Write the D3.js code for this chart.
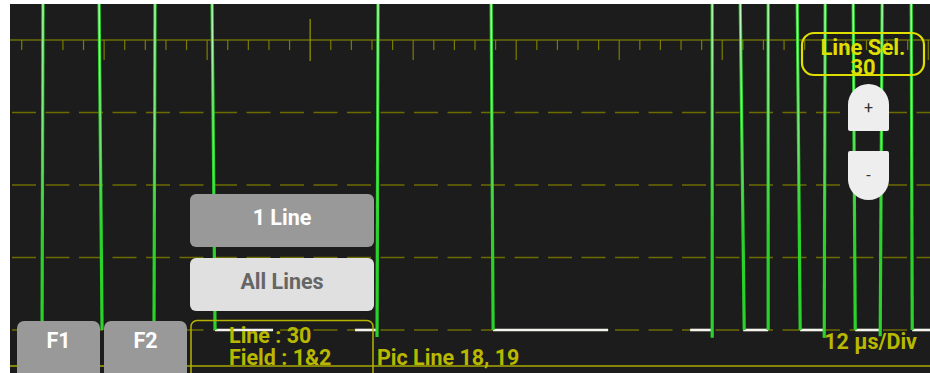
<!DOCTYPE html>
<html>
<head>
<meta charset="utf-8">
<script src="https://cdn.jsdelivr.net/npm/d3@7"></script>
<style>
  html, body { margin: 0; padding: 0; background: #fff; }
  svg { display: block; font-family: Roboto, "Liberation Sans", sans-serif; }
</style>
</head>
<body>
<svg id="wfm" width="930" height="373"></svg>
<script>
// trace edges: time (µs) at top / at bottom, bottom level (mV)
const edgeTopUs = [4.88, 11.41, 17.93, 24.57, 43.91, 57.08, 82.83, 86.09, 89.35, 92.73, 95.99, 99.25, 102.63, 106.01];
const edgeBotUs = [4.77, 11.76, 17.81, 24.92, 43.79, 57.31, 82.83, 86.56, 89.35, 93.08, 95.88, 99.49, 102.40, 106.13];
const edgeBotMv = [0, 0, 0, 0, -17, 0, -19, 0, 0, 0, -19, 0, -15, 0];
// white baseline (blanking) segments, µs
const baseStartUs = [24.92, 41.23, 57.31, 80.26, 86.44, 93.08, 99.49, 106.13];
const baseEndUs   = [31.68, 43.79, 70.71, 82.83, 89.35, 95.76, 102.40, 108.2];
// graticule
const dashLevelsMv = [525, 350, 175, 0];
const topLevelMv = 700;
const minorStep = 2.4;       // µs
const bigTickUs = 36;

// UI labels
const fieldButtons = ["F1", "F2"];
const modeButtons = ["1 Line", "All Lines"];
const infoLines = ["Line : 30", "Field : 1&2"];
const picLineLabel = "Pic Line 18, 19";
const scaleLabel = "12 µs/Div";
const lineSelLabels = ["Line Sel.", "30"];

const W = 930, H = 373;
const plot = { x: 10, y: 4, w: 920, h: 369 };
const FS = 21.5;

const svg = d3.select("#wfm");

const x = d3.scaleLinear().domain([0, 108.2]).range([1.1, 930]);
const y = d3.scaleLinear().domain([0, topLevelMv]).range([330, 40]);

svg.append("rect").attr("width", W).attr("height", H).attr("fill", "#fff");
svg.append("rect").attr("x", plot.x).attr("y", plot.y).attr("width", plot.w).attr("height", plot.h).attr("fill", "#1c1c1c");

const defs = svg.append("defs");
defs.append("clipPath").attr("id", "plotClip")
  .append("rect").attr("x", plot.x).attr("y", plot.y).attr("width", plot.w).attr("height", plot.h);

const core = defs.append("linearGradient").attr("id", "coreGrad")
  .attr("gradientUnits", "userSpaceOnUse")
  .attr("x1", 0).attr("x2", 0).attr("y1", 0).attr("y2", 240);
core.append("stop").attr("offset", "0%").attr("stop-color", "#e6ffe6").attr("stop-opacity", 0.85);
core.append("stop").attr("offset", "55%").attr("stop-color", "#d0ffd0").attr("stop-opacity", 0.45);
core.append("stop").attr("offset", "100%").attr("stop-color", "#d0ffd0").attr("stop-opacity", 0);

const g = svg.append("g").attr("clip-path", "url(#plotClip)");

// dashed levels
g.selectAll("line.dash")
  .data(dashLevelsMv)
  .join("line")
  .attr("class", "dash")
  .attr("x1", plot.x).attr("x2", W)
  .attr("y1", d => y(d)).attr("y2", d => y(d))
  .attr("stroke", "#6b6b00").attr("stroke-width", 1.3)
  .attr("stroke-dasharray", "24,9.5").attr("stroke-dashoffset", -2);

// top line with time ticks
g.append("line")
  .attr("x1", plot.x).attr("x2", W)
  .attr("y1", y(topLevelMv)).attr("y2", y(topLevelMv))
  .attr("stroke", "#6e6e08").attr("stroke-width", 1.3);

const tickTimes = d3.range(minorStep, 108.3, minorStep);
g.selectAll("line.tick")
  .data(tickTimes)
  .join("line")
  .attr("class", "tick")
  .attr("x1", d => x(d)).attr("x2", d => x(d))
  .attr("y1", d => Math.abs(d - bigTickUs) < 0.01 ? 19 : y(topLevelMv))
  .attr("y2", d => {
    if (Math.abs(d - bigTickUs) < 0.01) return 61;
    const k = Math.round(d / minorStep);
    return k % 5 === 0 ? 60 : 50;
  })
  .attr("stroke", d => Math.abs(d - bigTickUs) < 0.01 ? "#9a9a00" : "#7c7c00")
  .attr("stroke-width", 1.2);

// bottom solid line
svg.append("line")
  .attr("x1", plot.x).attr("x2", W).attr("y1", 366).attr("y2", 366)
  .attr("stroke", "#a8a800").attr("stroke-width", 1.5);

// white blanking segments
g.selectAll("line.base")
  .data(baseStartUs.map((s, i) => [s, baseEndUs[i]]))
  .join("line")
  .attr("class", "base")
  .attr("x1", d => x(d[0])).attr("x2", d => x(d[1]))
  .attr("y1", y(0)).attr("y2", y(0))
  .attr("stroke", "#f4f4ec").attr("stroke-width", 2.6);

// green edges
const edges = edgeTopUs.map((t, i) => ({ t0: t, t1: edgeBotUs[i], mv: edgeBotMv[i] }));
g.selectAll("line.edge")
  .data(edges)
  .join("line")
  .attr("class", "edge")
  .attr("x1", d => x(d.t0)).attr("y1", y(800))
  .attr("x2", d => x(d.t1)).attr("y2", d => y(d.mv))
  .attr("stroke", "#2ad22a").attr("stroke-width", 3.2);
g.selectAll("line.edgecore")
  .data(edges)
  .join("line")
  .attr("class", "edgecore")
  .attr("x1", d => x(d.t0)).attr("y1", y(800))
  .attr("x2", d => x(d.t1)).attr("y2", d => y(d.mv))
  .attr("stroke", "url(#coreGrad)").attr("stroke-width", 1.3);

// mode buttons
const modeFill = ["#999999", "#e0e0e0"];
const modeText = ["#ffffff", "#666666"];
modeButtons.forEach((label, i) => {
  const by = 194 + i * 64;
  svg.append("rect").attr("x", 190).attr("y", by).attr("width", 184).attr("height", 53)
    .attr("rx", 6).attr("fill", modeFill[i]);
  svg.append("text").attr("x", 282).attr("y", by + 31)
    .attr("text-anchor", "middle").attr("font-size", FS).attr("font-weight", "bold")
    .attr("fill", modeText[i]).text(label);
});

// field buttons
fieldButtons.forEach((label, i) => {
  const bx = 17 + i * 87;
  svg.append("rect").attr("x", bx).attr("y", 321).attr("width", 83).attr("height", 60)
    .attr("rx", 7).attr("fill", "#999999");
  svg.append("text").attr("x", bx + 41.5).attr("y", 348)
    .attr("text-anchor", "middle").attr("font-size", FS).attr("font-weight", "bold")
    .attr("fill", "#ffffff").text(label);
});

// info box
svg.append("rect").attr("x", 191).attr("y", 320.5).attr("width", 182).attr("height", 60)
  .attr("rx", 6).attr("fill", "none").attr("stroke", "#b4b400").attr("stroke-width", 1.5);
infoLines.forEach((txt, i) => {
  svg.append("text").attr("x", 229).attr("y", 343 + i * 22)
    .attr("font-size", FS).attr("font-weight", "bold").attr("fill", "#b8b800").text(txt);
});
svg.append("text").attr("x", 377).attr("y", 365)
  .attr("font-size", FS).attr("font-weight", "bold").attr("fill", "#b8b800").text(picLineLabel);
svg.append("text").attr("x", 917).attr("y", 349).attr("text-anchor", "end")
  .attr("font-size", FS).attr("font-weight", "bold").attr("fill", "#b8b800").text(scaleLabel);

// Line Sel. box
svg.append("rect").attr("x", 802).attr("y", 33).attr("width", 122).attr("height", 42)
  .attr("rx", 12).attr("fill", "none").attr("stroke", "#dede00").attr("stroke-width", 2.2);
lineSelLabels.forEach((txt, i) => {
  svg.append("text").attr("x", 863).attr("y", 55 + i * 19.5).attr("text-anchor", "middle")
    .attr("font-size", 22).attr("font-weight", "bold").attr("fill", "#dede00").text(txt);
});

// +/- buttons
const bx0 = 848, bw = 41, r = bw / 2;
svg.append("path")
  .attr("d", `M${bx0},131 V${84 + r} A${r},${r} 0 0 1 ${bx0 + bw},${84 + r} V129 Q${bx0 + bw},131 ${bx0 + bw - 2},131 H${bx0 + 2} Q${bx0},131 ${bx0},129 Z`)
  .attr("fill", "#eeeeee");
svg.append("path")
  .attr("d", `M${bx0},153 Q${bx0},151 ${bx0 + 2},151 H${bx0 + bw - 2} Q${bx0 + bw},151 ${bx0 + bw},153 V${200 - r} A${r},${r} 0 0 1 ${bx0},${200 - r} Z`)
  .attr("fill", "#eeeeee");
svg.append("text").attr("x", 868.5).attr("y", 113).attr("text-anchor", "middle")
  .attr("font-size", 16).attr("fill", "#333").text("+");
svg.append("text").attr("x", 868.5).attr("y", 181).attr("text-anchor", "middle")
  .attr("font-size", 16).attr("fill", "#333").text("-");
</script>
</body>
</html>
